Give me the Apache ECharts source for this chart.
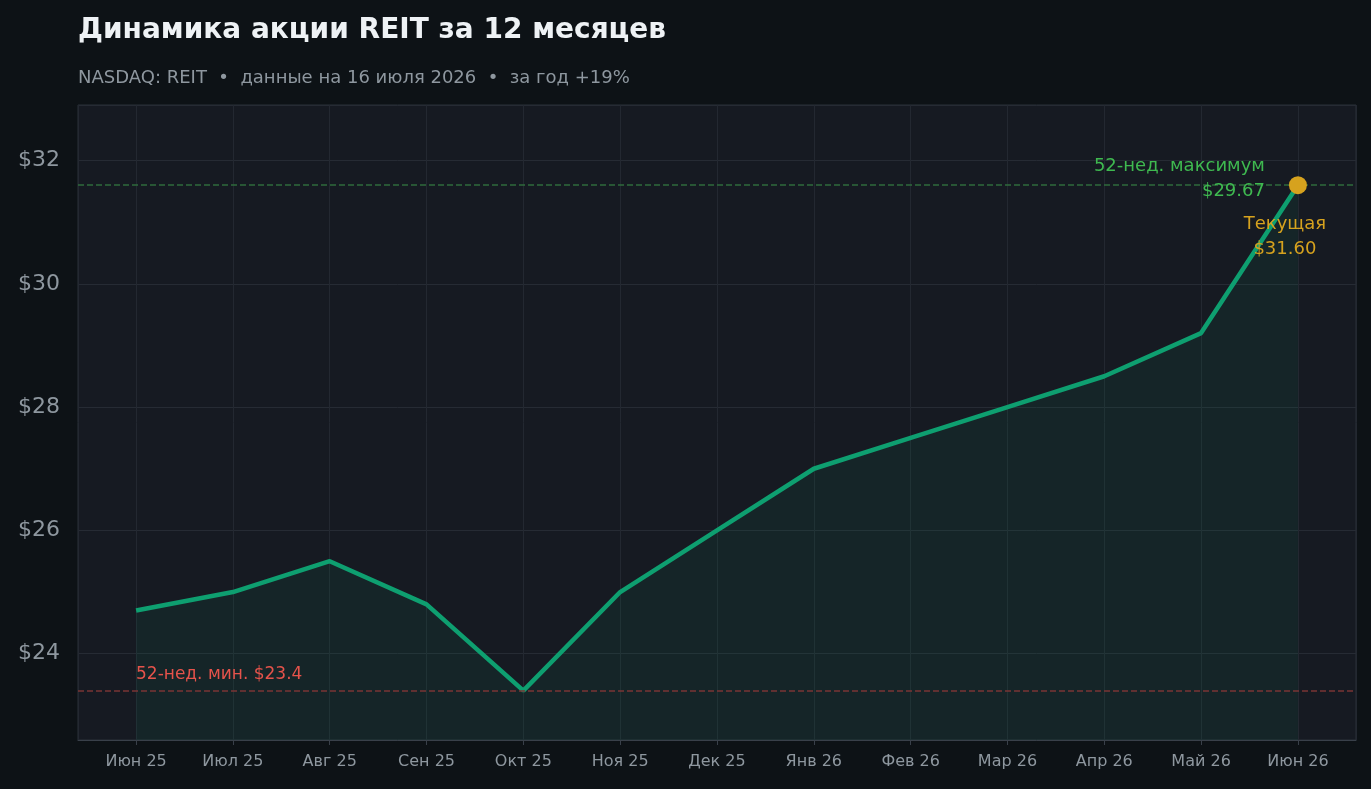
<!DOCTYPE html>
<html><head><meta charset="utf-8">
<script src="https://cdn.jsdelivr.net/npm/echarts@6/dist/echarts.min.js"></script>
<style>html,body{margin:0;padding:0;background:#0d1216;}#c{width:1371px;height:789px;}</style>
</head><body><div id="c"></div>
<script>
const categories = ['Июн 25','Июл 25','Авг 25','Сен 25','Окт 25','Ноя 25','Дек 25','Янв 26','Фев 26','Мар 26','Апр 26','Май 26','Июн 26'];
const prices = [24.7, 25.0, 25.5, 24.8, 23.4, 25.0, 26.0, 27.0, 27.5, 28.0, 28.5, 29.2, 31.6];
const maxLine = 31.6;
const minLine = 23.4;
const maxLabel = '52-нед. максимум\n$29.67';
const minLabel = '52-нед. мин. $23.4';
const currentLabel = 'Текущая\n$31.60';

const chart = echarts.init(document.getElementById('c'));
const font = 'DejaVu Sans';
chart.setOption({
  backgroundColor: '#0d1216',
  textStyle: {fontFamily: font},
  title: {
    text: 'Динамика акции REIT за 12 месяцев',
    subtext: 'NASDAQ: REIT  •  данные на 16 июля 2026  •  за год +19%',
    left: 73, top: 12, itemGap: 24,
    textStyle: {color: '#eef2f5', fontSize: 28, fontWeight: 'bold', fontFamily: font},
    subtextStyle: {color: '#8e979f', fontSize: 18, fontFamily: font}
  },
  grid: {left: 78, right: 15, top: 105, bottom: 49, show: true, backgroundColor: '#161a22', borderColor: '#2a3038', borderWidth: 1},
  xAxis: {
    type: 'value', min: -0.6, max: 12.6, splitNumber: 13,
    axisLine: {show: true, lineStyle: {color: '#39404a'}},
    axisTick: {show: true, lineStyle: {color: '#39404a'}},
    axisLabel: {color: '#8e979f', fontSize: 16, margin: 14, showMinLabel: false, showMaxLabel: false,
      formatter: v => { const i = Math.round(v); return (Math.abs(v - i) < 1e-6 && categories[i]) ? categories[i] : ''; }},
    splitLine: {show: true, lineStyle: {color: '#232831'}}
  },
  yAxis: {
    type: 'value', min: 22.6, max: 32.9, splitNumber: 5,
    axisLine: {show: false}, axisTick: {show: false},
    axisLabel: {color: '#8e979f', fontSize: 22, margin: 18,
      formatter: v => (Math.abs(v % 2) < 1e-6 ? '$' + v : '')},
    splitLine: {show: true, lineStyle: {color: '#262b34'}}
  },
  series: [{
    type: 'line',
    data: prices.map((p, i) => [i, p]),
    symbol: 'none',
    lineStyle: {color: '#0e9f70', width: 4.5},
    areaStyle: {color: 'rgba(16,120,90,0.18)', origin: 'start'},
    markLine: {
      silent: true, symbol: 'none',
      data: [
        {yAxis: maxLine, lineStyle: {color: '#2f6b3d', type: 'dashed', width: 1.5}, label: {show: false}},
        {yAxis: minLine, lineStyle: {color: '#7a3535', type: 'dashed', width: 1.5},
          label: {show: true, formatter: minLabel, position: 'insideStartTop', color: '#e5534b', fontSize: 17, distance: [58, 8]}}
      ]
    },
    markPoint: {
      silent: true,
      data: [
        {coord: [12, prices[12]], symbol: 'circle', symbolSize: 18, itemStyle: {color: '#d6a21e'}, label: {show: false}},
        {coord: [12, prices[12]], symbol: 'circle', symbolSize: 1, itemStyle: {color: 'rgba(0,0,0,0)'},
          label: {show: true, formatter: maxLabel, color: '#3fb950', fontSize: 18, align: 'right', lineHeight: 25, offset: [-33, -6]}},
        {coord: [12, prices[12]], symbol: 'circle', symbolSize: 1, itemStyle: {color: 'rgba(0,0,0,0)'},
          label: {show: true, formatter: currentLabel, color: '#d6a21e', fontSize: 18, align: 'center', lineHeight: 25, offset: [-13, 52]}}
      ]
    }
  }]
});
</script></body></html>
